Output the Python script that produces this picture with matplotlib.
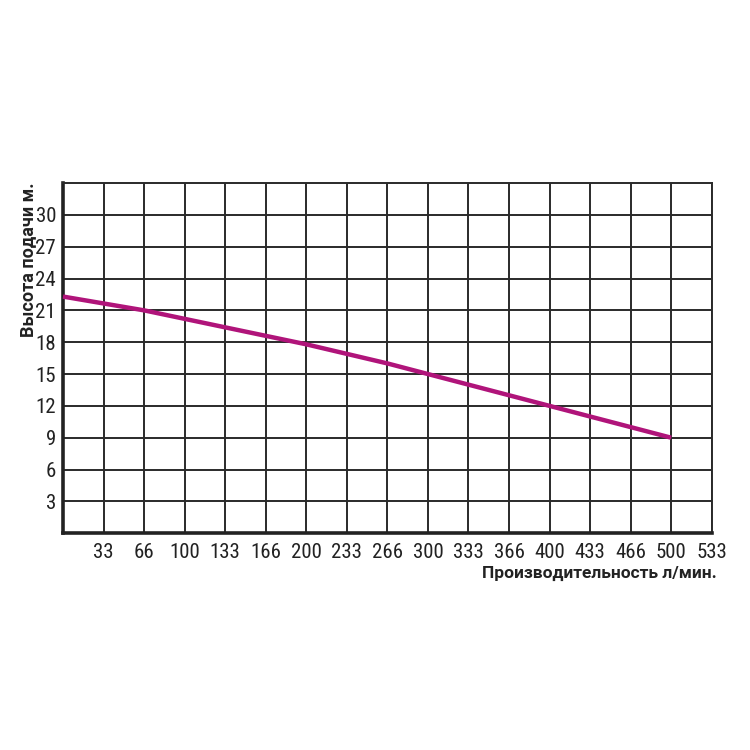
import matplotlib.pyplot as plt

# pump curve: flow (l/min) vs head (m)
flow = [0, 66.7, 133.3, 200, 266.7, 300, 366.7, 400, 433.3, 466.7, 500]
head = [22.3, 21.0, 19.4, 17.8, 16.0, 15.0, 13.0, 12.0, 11.0, 10.0, 9.0]

xlabels = ['33', '66', '100', '133', '166', '200', '233', '266', '300',
           '333', '366', '400', '433', '466', '500', '533']
ylabels = ['3', '6', '9', '12', '15', '18', '21', '24', '27', '30']

tickfont = ['Roboto Condensed', 'DejaVu Sans']
labelfont = ['Roboto', 'DejaVu Sans']

fig = plt.figure(figsize=(7.5, 7.5), dpi=100)
ax = fig.add_axes([0.084, 0.289, 0.865, 0.467])

step = 533.33 / 16
xt = [step * (i + 1) for i in range(len(xlabels))]
yt = [int(v) for v in ylabels]

ax.set_xlim(0, 533.33)
ax.set_ylim(0, 33)
ax.set_xticks(xt)
ax.set_xticklabels(xlabels)
ax.set_yticks(yt)
ax.set_yticklabels(ylabels)

for lab in ax.get_xticklabels() + ax.get_yticklabels():
    lab.set_family(tickfont)
    lab.set_fontsize(15)
    lab.set_color('#222222')

ax.tick_params(axis='x', length=0, pad=7)
ax.tick_params(axis='y', length=0, pad=5)
ax.grid(True, color='#2a2a2a', linewidth=1.4)
ax.set_axisbelow(True)

for side in ['top', 'right']:
    ax.spines[side].set_linewidth(1.4)
    ax.spines[side].set_color('#2a2a2a')
for side in ['left', 'bottom']:
    ax.spines[side].set_linewidth(2.6)
    ax.spines[side].set_color('#222222')

ax.plot(flow, head, color='#b0147a', linewidth=3.2, solid_capstyle='butt', zorder=3, clip_on=False)

fig.text(0.955, 0.236, 'Производительность л/мин.', ha='right', va='center',
         family=labelfont, fontsize=12.5, fontweight='bold', color='#222222')
fig.text(0.037, 0.757, 'Высота подачи м.', ha='center', va='top', rotation=90,
         family=labelfont, fontsize=13, fontweight='bold', color='#222222')

fig.savefig('out.png', dpi=100)
